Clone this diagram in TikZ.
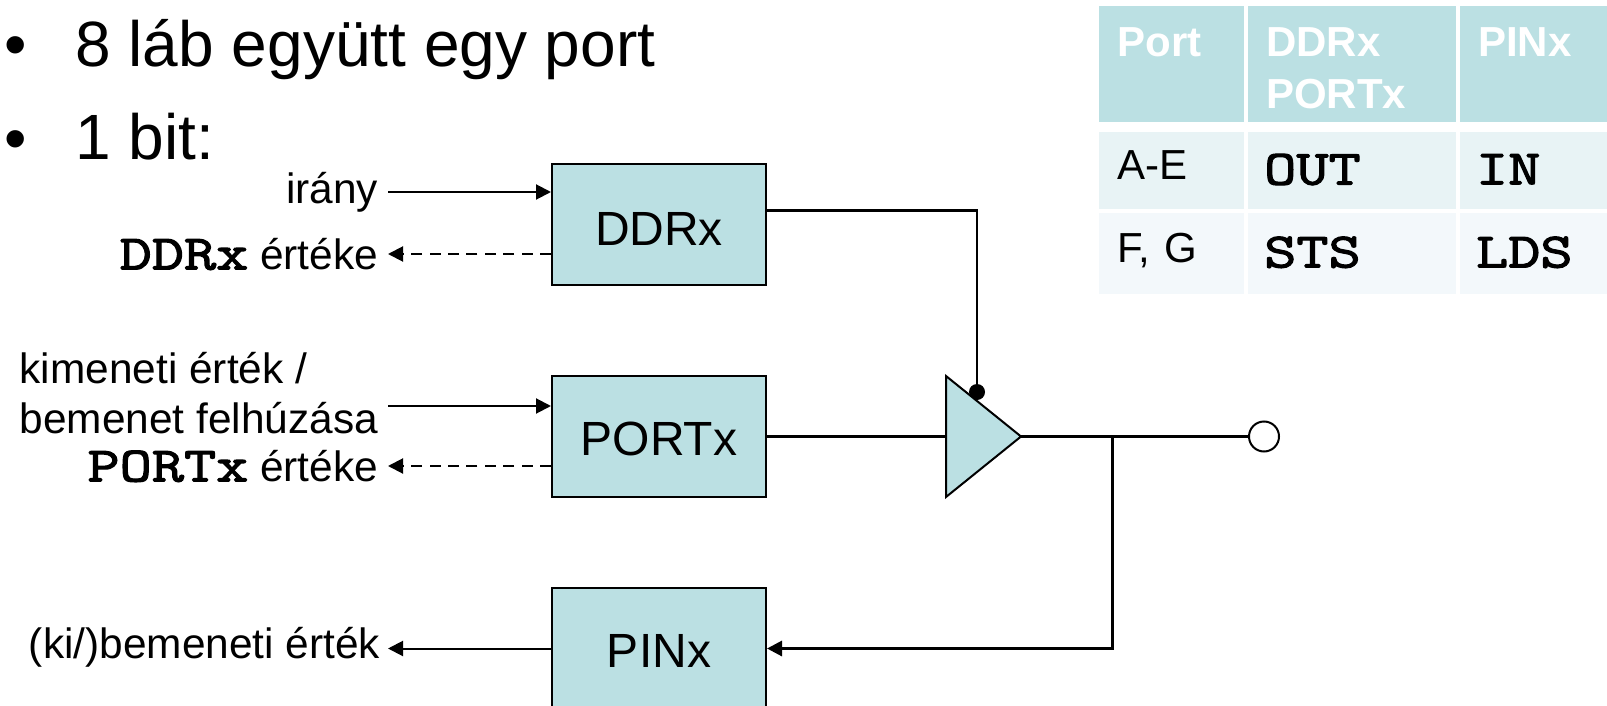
\documentclass[tikz,border=0pt]{standalone}
\usepackage{fontspec}
\setmainfont{Liberation Sans}
\newfontfamily\codefont[FakeStretch=1.27,FakeBold=2.5]{Latin Modern Mono}
\usetikzlibrary{positioning,arrows.meta,shapes.geometric}
\definecolor{boxfill}{HTML}{BBE0E3}
\definecolor{rowone}{HTML}{E8F3F5}
\definecolor{rowtwo}{HTML}{F3F8FB}
\newcommand{\codetext}[1]{{\codefont\fontsize{24.6}{24.6}\selectfont #1}}
\newcommand{\headtext}[1]{\hspace{9pt}\rule{0pt}{18pt}#1}
\newcommand{\celltext}[1]{\hspace{9pt}\raisebox{5.5pt}{#1}}
\newcommand{\codecell}[1]{\hspace{8pt}\raisebox{1.5pt}{\codetext{#1}}}
\tikzset{
  regbox/.style={draw, line width=1pt, fill=boxfill, minimum width=107pt, minimum height=60.5pt, inner sep=0pt, text height=19.2pt, font=\fontsize{24}{24}\selectfont},
  labeltext/.style={inner sep=0pt, outer sep=5pt, align=right, font=\fontsize{21.2}{25}\selectfont},
  bullettext/.style={inner sep=0pt, anchor=west, font=\fontsize{32}{32}\selectfont},
  headcell/.style={fill=boxfill, text=white, inner sep=0pt, minimum height=58pt, align=left, font=\fontsize{21}{26}\selectfont\bfseries},
  bodycell/.style={inner sep=0pt, minimum height=38.5pt, align=left, font=\fontsize{21}{21}\selectfont},
  valarrow/.style={->, line width=1pt, dash pattern=on 5.5pt off 3.7pt},
}
\begin{document}
\begin{tikzpicture}[x=0.5pt, y=-0.5pt, >={Triangle[length=7.5pt,width=7.5pt]}]
  \useasboundingbox (0,0) rectangle (1607,706);
  % text on the left
  \node (dot1) [bullettext] at (4,52) {•};
  \node (dot2) [bullettext] at (4,146) {•};
  \node (line1) [bullettext] at (75,50) {8 láb együtt egy port};
  \node (line2) [bullettext] at (75,137) {1 bit:};
  % registers
  \node (DDRx) [regbox, text height=21.2pt] at (659,224.5) {DDRx};
  \node (PORTx) [regbox, below=44.5pt of DDRx] {PORTx};
  \node (PINx) [regbox, below=44.5pt of PORTx] {PINx};
  \node (enable) [circle, fill=black, inner sep=0pt, minimum size=8pt] at (977,392) {};
  \node (buffer) [isosceles triangle, isosceles triangle stretches, draw, line width=1pt, fill=boxfill, inner sep=0pt, outer sep=0pt, minimum width=60.5pt, minimum height=37.5pt, right=89.5pt of PORTx] {};
  \node (pad) [circle, draw, line width=1pt, fill=white, inner sep=0pt, minimum size=15pt] at (1264,436.5) {};
  \coordinate (branch) at (1112,436.5);
  \coordinate (DDRxout) at ([yshift=7pt]DDRx.east);
  % labels
  \node (irany) [labeltext, anchor=east] at (388,192) {irány};
  \node (DDRxval) [labeltext, anchor=east] at (388,254) {\codetext{DDRx} értéke};
  \node (kimenet) [labeltext, align=left, anchor=east] at (388,393) {kimeneti érték /\\bemenet felhúzása};
  \coordinate (kimenetend) at (388,406);
  \node (PORTxval) [labeltext, anchor=east] at (388,466) {\codetext{PORTx} értéke};
  \node (PINxval) [labeltext, outer sep=4pt, anchor=east] at (388,647) {(ki/)bemeneti érték};
  % connectors
  \draw[->, line width=1pt] (irany.east) -- (irany.east -| DDRx.west);
  \draw[valarrow] (DDRx.west |- DDRxval.east) -- (DDRxval.east);
  \draw[->, line width=1pt] (kimenetend) -- (kimenetend -| PORTx.west);
  \draw[valarrow] (PORTx.west |- PORTxval.east) -- (PORTxval.east);
  \draw[->, line width=1pt] (PINx.west) -- (PINx.west -| PINxval.east);
  \draw[line width=1.2pt] (DDRxout) -| (enable);
  \draw[line width=1.5pt] (PORTx.east) -- (buffer.west);
  \draw[line width=1.5pt] (buffer.apex) -- (pad.west);
  \draw[->, line width=1.5pt] (branch) |- (PINx.east);
  % table
  \node (hPort) [headcell, text width=72.5pt, anchor=north west] at (1099,6) {\headtext{Port}\\~};
  \node (hDDRx) [headcell, text width=104pt, right=1.5pt of hPort] {\headtext{DDRx}\\\hspace{9pt}PORTx};
  \node (hPINx) [headcell, text width=74.5pt, right=1.5pt of hDDRx] {\headtext{PINx}\\~};
  \node (aPort) [bodycell, fill=rowone, text width=72.5pt, below=4.5pt of hPort] {\celltext{A-E}};
  \node (aOut) [bodycell, fill=rowone, text width=104pt, below=4.5pt of hDDRx] {\codecell{OUT}};
  \node (aIn) [bodycell, fill=rowone, text width=74.5pt, below=4.5pt of hPINx] {\codecell{IN}};
  \node (fPort) [bodycell, fill=rowtwo, minimum height=40.5pt, text width=72.5pt, below=1.5pt of aPort] {\celltext{F, G}};
  \node (fSts) [bodycell, fill=rowtwo, minimum height=40.5pt, text width=104pt, below=1.5pt of aOut] {\codecell{STS}};
  \node (fLds) [bodycell, fill=rowtwo, minimum height=40.5pt, text width=74.5pt, below=1.5pt of aIn] {\codecell{LDS}};
\end{tikzpicture}
\end{document}
